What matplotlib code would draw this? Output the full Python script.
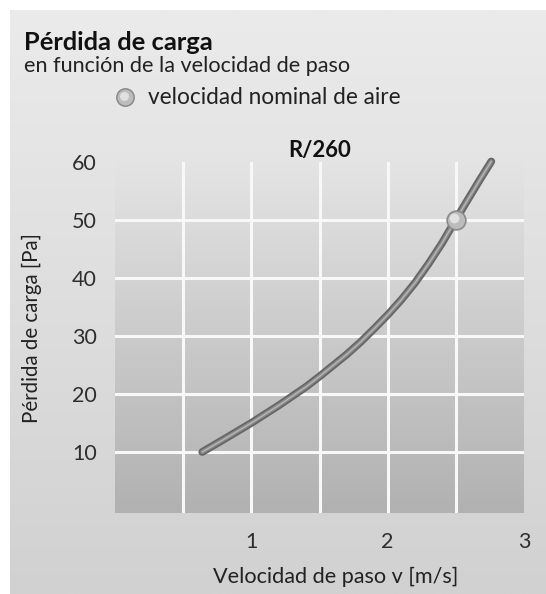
import matplotlib
matplotlib.use("Agg")
import matplotlib.pyplot as plt
import numpy as np
from matplotlib.colors import LinearSegmentedColormap
from matplotlib.lines import Line2D
from matplotlib.transforms import offset_copy

# ---------------- data ----------------
velocity = [0.64, 0.8, 1.0, 1.2, 1.4, 1.5, 1.6, 1.7, 1.8, 1.9, 2.0,
            2.1, 2.2, 2.3, 2.4, 2.5, 2.6, 2.68, 2.76]
pressure = [10, 12.2, 15.0, 18.0, 21.2, 23.0, 24.9, 26.8, 28.9, 31.2, 33.6,
            36.2, 39.1, 42.4, 46.0, 50, 53.9, 57.0, 60]
nominal_v = [2.5]
nominal_p = [50]
x_ticks = [1, 2, 3]
y_ticks = [10, 20, 30, 40, 50, 60]
x_grid = [0.5, 1, 1.5, 2, 2.5]
y_grid = [10, 20, 30, 40, 50]

title = "Pérdida de carga"
subtitle = "en función de la velocidad de paso"
legend_label = "velocidad nominal de aire"
chart_title = "R/260"
xlabel = "Velocidad de paso v [m/s]"
ylabel = "Pérdida de carga [Pa]"

# ---------------- figure ----------------
W, H = 546, 594
plt.rcParams['font.family'] = ['Lato', 'DejaVu Sans']
fig = plt.figure(figsize=(W / 100, H / 100), dpi=100)
fig.patch.set_facecolor('white')

def fx(px):
    return px / W

def fy(py):
    return 1 - py / H

grad = np.linspace(0, 1, 256).reshape(-1, 1)

# panel background
bg = fig.add_axes([fx(10), 0, 1 - fx(10), fy(10)])
cm_panel = LinearSegmentedColormap.from_list('panel', ['#ebebeb', '#d1d1d1'])
bg.imshow(grad, aspect='auto', cmap=cm_panel, extent=[0, 1, 0, 1], origin='upper')
bg.set_xlim(0, 1)
bg.set_ylim(0, 1)
bg.set_axis_off()

# main axes
ax = fig.add_axes([fx(115), fy(513), (524 - 115) / W, (513 - 161.5) / H])
cm_plot = LinearSegmentedColormap.from_list('plot', ['#e4e4e4', '#b1b1b1'])
ax.imshow(grad, aspect='auto', cmap=cm_plot, extent=[0, 3, -0.5, 60],
          origin='upper', zorder=0)
ax.set_xlim(0, 3)
ax.set_ylim(-0.5, 60)
ax.patch.set_alpha(0)
for s in ax.spines.values():
    s.set_visible(False)

for xv in x_grid:
    ax.axvline(xv, color='#f8f8f8', lw=2.2, zorder=1)
for yv in y_grid:
    ax.axhline(yv, color='#f8f8f8', lw=2.2, zorder=1)

# curve (tube look)
tube = dict(solid_capstyle='round', solid_joinstyle='round', clip_on=False)
ax.plot(velocity, pressure, color='#666666', lw=5.6, zorder=3, **tube)
ax.plot(velocity, pressure, color='#8a8a8a', lw=3.0, zorder=3.5, **tube)
ax.plot(velocity, pressure, color='#b6b6b6', lw=1.0, zorder=4, **tube)

# nominal point
ax.plot(nominal_v, nominal_p, 'o', ms=13.5, mfc='#bcbcbc', mec='#8a8a8a',
        mew=1.2, zorder=5, clip_on=False)
hl = offset_copy(ax.transData, fig=fig, x=-1.2, y=1.2, units='points')
ax.plot(nominal_v, nominal_p, 'o', ms=7, mfc='#e2e2e2', mec='none',
        zorder=6, transform=hl, clip_on=False)

ax.set_xticks(x_ticks)
ax.set_yticks(y_ticks)
ax.set_xticklabels([str(v) for v in x_ticks])
ax.set_yticklabels([str(v) for v in y_ticks])
ax.tick_params(length=0, labelsize=14, labelcolor='#2e2e2e')
ax.tick_params(axis='y', pad=13)
ax.tick_params(axis='x', pad=14)

# texts
t_title = fig.text(fx(23.7), fy(42), title, fontweight='bold', fontsize=14,
                   color='#111111', ha='left', va='center')
t_sub = fig.text(fx(23.7), fy(66), subtitle, fontsize=13, color='#222222',
                 ha='left', va='center')
t_leg = fig.text(fx(148), fy(97), legend_label, fontsize=13, color='#222222',
                 ha='left', va='center')
t_chart = fig.text(fx(320), fy(150), chart_title, fontweight='bold',
                   fontsize=13, color='#111111', ha='center', va='center')
t_xl = fig.text(fx(336), fy(577), xlabel, fontsize=13, color='#222222',
                ha='center', va='center')
t_yl = fig.text(fx(32), fy(328), ylabel, fontsize=12, color='#222222',
                ha='center', va='center', rotation=90)

# legend marker
fig.add_artist(Line2D([fx(125)], [fy(97)], marker='o', ms=12.5, mfc='#bcbcbc',
                      mec='#8a8a8a', mew=1.1, transform=fig.transFigure,
                      linestyle='none'))
fig.add_artist(Line2D([fx(124.2)], [fy(96)], marker='o', ms=6.5, mfc='#e0e0e0',
                      mec='none', transform=fig.transFigure, linestyle='none'))

# fit text sizes to measured widths
fig.canvas.draw()
r = fig.canvas.get_renderer()
for t, target, use_h in [(t_title, 190, False), (t_sub, 326, False),
                         (t_leg, 251, False), (t_chart, 63, False),
                         (t_xl, 245, False), (t_yl, 190, True)]:
    bb = t.get_window_extent(r)
    cur = bb.height if use_h else bb.width
    t.set_fontsize(t.get_fontsize() * target / cur)

lab60 = ax.get_yticklabels()[-1]
bb = lab60.get_window_extent(r)
new_ls = 14 * 25.0 / bb.width
ax.tick_params(labelsize=new_ls)

fig.savefig("out.png", dpi=100, facecolor='white')
